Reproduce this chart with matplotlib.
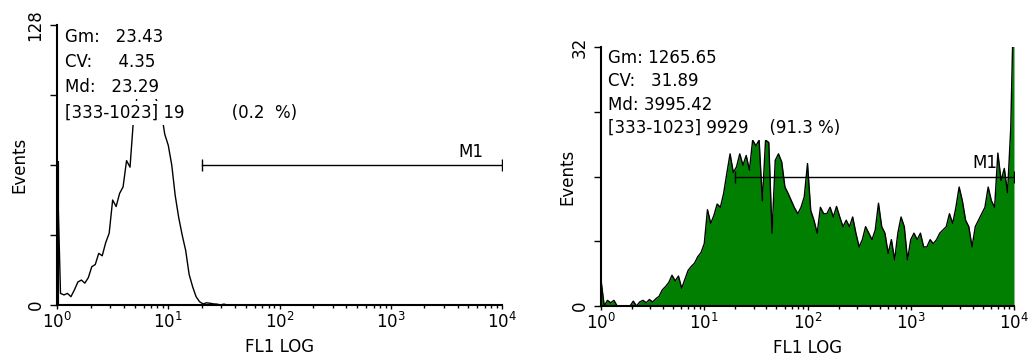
import numpy as np
import matplotlib.pyplot as plt
from matplotlib.ticker import FixedLocator, LogLocator, NullFormatter

plt.rcParams['font.family'] = 'DejaVu Sans'
plt.rcParams['mathtext.fontset'] = 'dejavusans'

# 1024 channels over 4 log decades, binned by 8 channels
channels = np.arange(0, 1025, 8)
fl1 = 10 ** (channels / 256)

# left histogram (control), counts per bin
left_counts = [66, 5.3, 4.6, 5.3, 3.8, 6.9, 10.5, 11.4, 10.0, 12.5,
               17.5, 18.5, 23.6, 22.5, 28.5, 32.8, 48, 45, 51, 54,
               66, 63, 85, 95, 100, 102, 104, 100, 96, 92,
               88, 78, 73, 64, 50, 40, 32, 25, 14, 8.4,
               3.8, 1.5, 0.5, 1.0, 0.8, 0.5, 0.4, 0, 0.4] + [0] * 80

# right histogram (stained), counts per bin
right_counts = [
    # 10^0 - 10^1
    3.2, 0, 0.7, 0.4, 0.7, 0, 0, 0, 0, 0, 0.6, 0, 0.5, 0.7, 0.4, 0.8,
    0.5, 0.9, 1.2, 2.0, 2.4, 2.9, 3.8, 3.1, 3.7, 2.2, 3.3, 4.4, 4.9, 5.3, 6.1, 6.6,
    # 10^1 - 10^2
    7.7, 11.9, 10.2, 11.2, 12.6, 12.2, 13.9, 16.4, 18.8, 16.5, 17.2, 18.8, 17.4, 18.6, 16.8, 20.5,
    19.8, 20.5, 13.0, 20.5, 20.2, 9.0, 18.0, 18.8, 17.8, 14.7, 13.9, 13.0, 12.1, 11.4, 12.2, 13.5,
    # 10^2 - 10^3
    17.6, 11.8, 10.6, 9.0, 12.2, 11.4, 11.4, 12.2, 11.0, 12.3, 11.0, 9.8, 10.6, 9.8, 11.0, 9.0,
    7.3, 8.2, 9.8, 9.0, 8.2, 9.4, 12.7, 9.8, 9.0, 6.5, 8.2, 5.7, 9.0, 11.0, 9.8, 5.7,
    # 10^3 - 10^4
    8.2, 9.0, 8.2, 9.0, 7.3, 7.3, 8.2, 7.7, 8.2, 9.0, 9.4, 9.8, 11.4, 10.2, 12.2, 14.7,
    13.0, 10.6, 9.8, 7.3, 9.8, 10.6, 11.4, 12.2, 14.7, 13.0, 12.2, 18.9, 15.5, 17.0, 14.0, 22.0,
    40]

left_stats = ['Gm:   23.43', 'CV:     4.35', 'Md:   23.29', '[333-1023] 19         (0.2  %)']
right_stats = ['Gm: 1265.65', 'CV:   31.89', 'Md: 3995.42', '[333-1023] 9929    (91.3 %)']

m1_range = [10 ** (333 / 256), 10 ** (1023 / 256)]
left_m1 = 64
right_m1 = 16
left_ymax = 128
right_ymax = 32

tick_vals = [1, 10, 100, 1000, 10000]
tick_labels = [r'$10^{0}$', r'$10^{1}$', r'$10^{2}$', r'$10^{3}$', r'$10^{4}$']

fig = plt.figure(figsize=(10.35, 3.6), dpi=100)
ax1 = fig.add_axes([0.0551, 0.1528, 0.4299, 0.7778])
ax2 = fig.add_axes([0.5807, 0.15, 0.3990, 0.7194])

green = '#007f00'


def setup(ax, ymax, m1y, m1lab_y, stats):
    ax.set_xscale('log')
    ax.set_xlim(1, 1e4)
    ax.set_ylim(0, ymax)
    ax.xaxis.set_major_locator(FixedLocator(tick_vals))
    ax.set_xticklabels(tick_labels, fontsize=12)
    ax.xaxis.set_minor_locator(LogLocator(subs=range(2, 10)))
    ax.xaxis.set_minor_formatter(NullFormatter())
    ax.tick_params(axis='x', which='major', length=3, width=1, pad=2)
    ax.tick_params(axis='x', which='minor', length=2, width=1)
    ax.set_yticks(np.linspace(0, ymax, 5))
    ax.set_yticklabels(['0', '', '', '', str(ymax)], rotation=90, va='center', fontsize=12)
    ax.tick_params(axis='y', length=5, width=1, pad=4)
    for s in ['top', 'right']:
        ax.spines[s].set_visible(False)
    for s in ['left', 'bottom']:
        ax.spines[s].set_linewidth(1.5)
    ax.set_xlabel('FL1 LOG', fontsize=12, labelpad=4)
    ax.set_ylabel('Events', fontsize=12)

    # M1 marker
    ax.plot(m1_range, [m1y, m1y], color='black', lw=1, marker='|', ms=8, mew=1, zorder=4)
    ax.text(10 ** 3.72, m1lab_y, 'M1', fontsize=12, ha='center', va='bottom', zorder=4)

    for i, s in enumerate(stats):
        ax.text(0.017, 0.957 - 0.09 * i, s, transform=ax.transAxes, fontsize=12,
                ha='left', va='center', zorder=5,
                bbox=dict(boxstyle='square,pad=0.18', fc='white', ec='none'))


# control: outline only
ax1.plot(fl1, left_counts, color='black', lw=1)
ax1.plot([1, 1], [0, left_counts[0]], color='black', lw=3, solid_capstyle='butt')
setup(ax1, left_ymax, left_m1, 65.8, left_stats)
ax1.yaxis.set_label_coords(-0.065, 0.5)

# stained: filled green
ax2.fill_between(fl1, right_counts, color=green, lw=0)
ax2.plot(fl1, right_counts, color='black', lw=1)
setup(ax2, right_ymax, right_m1, 16.6, right_stats)
ax2.yaxis.set_label_coords(-0.060, 0.5)

fig.savefig('out.png', dpi=100)
